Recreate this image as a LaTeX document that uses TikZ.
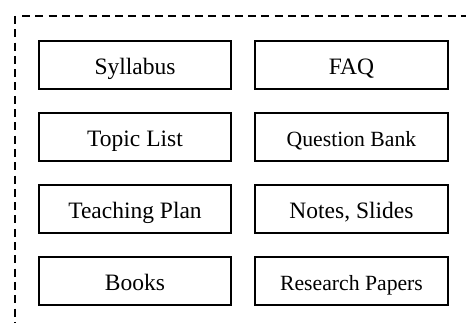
\documentclass[tikz,border=0pt]{standalone}
\usepackage{fontspec}
\setmainfont{Liberation Serif}
\begin{document}
\begin{tikzpicture}[x=1pt,y=1pt,
  item/.style={draw, line width=1.5pt, minimum width=192pt, minimum height=48pt,
    inner sep=0pt, text height=18.6pt, text depth=0pt,
    font=\fontsize{23.5}{26}\selectfont},
  smallitem/.style={item, font=\fontsize{21.7}{24}\selectfont},
  frame/.style={line width=1.8pt, dash pattern=on 8pt off 5.3pt}]
  \useasboundingbox (0,0) rectangle (466,323);
  % open dashed frame (top and left edges)
  \coordinate (fb) at (15,-5);
  \coordinate (fc) at (15,307);
  \coordinate (fr) at (475,307);
  \draw[frame] (fc) -- (fb);
  \draw[frame] ([xshift=7pt]fc) -- (fr);
  % left column
  \node[item] (syl) at (135,258) {Syllabus};
  \node[item] (top) at (135,186) {Topic List};
  \node[item] (tea) at (135,114) {Teaching Plan};
  \node[item] (boo) at (135,42) {Books};
  % right column
  \node[item, minimum width=193pt] (faq) at (351.5,258) {FAQ};
  \node[smallitem, minimum width=193pt] (que) at (351.5,186) {Question Bank};
  \node[item, minimum width=193pt] (not) at (351.5,114) {Notes, Slides};
  \node[smallitem, minimum width=193pt] (res) at (351.5,42) {Research Papers};
\end{tikzpicture}
\end{document}
